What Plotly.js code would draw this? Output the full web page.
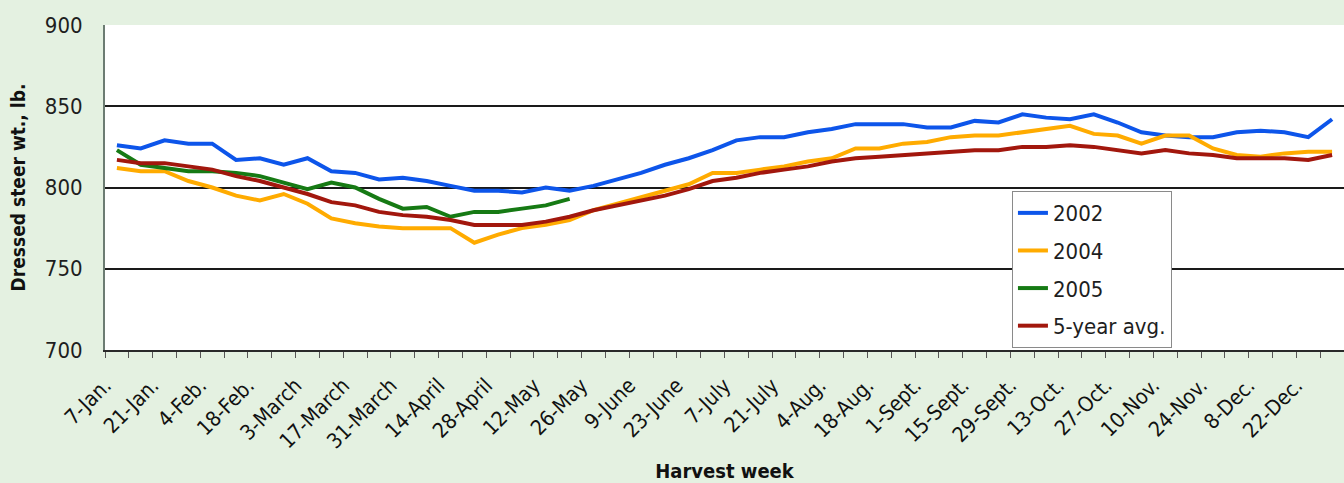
<!DOCTYPE html>
<html>
<head>
<meta charset="utf-8">
<script src="https://cdn.plot.ly/plotly-3.0.1.min.js"></script>
<style>
  html, body { margin: 0; padding: 0; background: #e4f1e1; }
  #chart { width: 1344px; height: 483px; }
</style>
</head>
<body>
<div id="chart"></div>
<script>
// Harvest week labels (every week; labels shown on alternating weeks)
const weeks = [
  "7-Jan.", "14-Jan.", "21-Jan.", "28-Jan.", "4-Feb.", "11-Feb.", "18-Feb.", "25-Feb.",
  "3-March", "10-March", "17-March", "24-March", "31-March", "7-April", "14-April", "21-April",
  "28-April", "5-May", "12-May", "19-May", "26-May", "2-June", "9-June", "16-June",
  "23-June", "30-June", "7-July", "14-July", "21-July", "28-July", "4-Aug.", "11-Aug.",
  "18-Aug.", "25-Aug.", "1-Sept.", "8-Sept.", "15-Sept.", "22-Sept.", "29-Sept.", "6-Oct.",
  "13-Oct.", "20-Oct.", "27-Oct.", "3-Nov.", "10-Nov.", "17-Nov.", "24-Nov.", "1-Dec.",
  "8-Dec.", "15-Dec.", "22-Dec.", "29-Dec."
];

const y2002 = [
  826, 824, 829, 827, 827, 817, 818, 814, 818, 810, 809, 805, 806,
  804, 801, 798, 798, 797, 800, 798, 801, 805, 809, 814, 818, 823,
  829, 831, 831, 834, 836, 839, 839, 839, 837, 837, 841, 840, 845,
  843, 842, 845, 840, 834, 832, 831, 831, 834, 835, 834, 831, 842
];

const y2004 = [
  812, 810, 810, 804, 800, 795, 792, 796, 790, 781, 778, 776, 775,
  775, 775, 766, 771, 775, 777, 780, 786, 790, 794, 798, 802, 809,
  809, 811, 813, 816, 818, 824, 824, 827, 828, 831, 832, 832, 834,
  836, 838, 833, 832, 827, 832, 832, 824, 820, 819, 821, 822, 822
];

const y2005 = [
  823, 814, 812, 810, 810, 809, 807, 803, 799, 803, 800, 793, 787,
  788, 782, 785, 785, 787, 789, 793
];

const yAvg = [
  817, 815, 815, 813, 811, 807, 804, 800, 796, 791, 789, 785, 783,
  782, 780, 777, 777, 777, 779, 782, 786, 789, 792, 795, 799, 804,
  806, 809, 811, 813, 816, 818, 819, 820, 821, 822, 823, 823, 825,
  825, 826, 825, 823, 821, 823, 821, 820, 818, 818, 818, 817, 820
];

const seriesNames = ["2002", "2004", "2005", "5-year avg."];
const seriesColors = ["#0d55ea", "#ffab00", "#167a14", "#a2170d"];
const seriesValues = [y2002, y2004, y2005, yAvg];

const idx = weeks.map((_, i) => i);
// tick marks sit between weeks (category boundaries); every other week is labelled
const boundaries = idx.map(i => i - 0.5).concat([weeks.length - 0.5]);
const boundaryText = boundaries.map(b => {
  const i = b + 0.5;
  return (i < weeks.length && i % 2 === 0) ? weeks[i] : "";
});

const traces = seriesNames.map((name, k) => ({
  type: "scatter",
  mode: "lines",
  name: name,
  legendgroup: "g" + k,
  x: idx.slice(0, seriesValues[k].length),
  y: seriesValues[k],
  line: { color: seriesColors[k], width: 4 },
  hoverinfo: "x+y+name"
}));

const FAM = "DejaVu Sans Condensed, DejaVu Sans, sans-serif";

const layout = {
  width: 1344,
  height: 483,
  paper_bgcolor: "#e4f1e1",
  plot_bgcolor: "#ffffff",
  margin: { l: 105, r: 0, t: 25, b: 133 },
  showlegend: true,
  legend: {
    x: 0.732, y: 0.489, xanchor: "left", yanchor: "top",
    bgcolor: "#ffffff", bordercolor: "#8a8a8a", borderwidth: 1,
    font: { family: FAM, size: 22, color: "#1e1e1e" },
    tracegroupgap: 6,
    traceorder: "grouped"
  },
  xaxis: {
    range: [-0.5, weeks.length - 0.5],
    tickmode: "array",
    tickvals: boundaries,
    ticktext: boundaryText,
    tickangle: -45,
    ticks: "outside",
    ticklen: 6,
    tickwidth: 1,
    tickcolor: "#555555",
    ticklabelstandoff: 7,
    tickfont: { family: FAM, size: 21, color: "#111111" },
    showgrid: false,
    zeroline: false,
    showline: true,
    linecolor: "#2a2a2a",
    linewidth: 2,
    automargin: false,
    title: { text: "Harvest week", font: { family: FAM, size: 20, color: "#111", weight: "bold" }, standoff: 12 }
  },
  yaxis: {
    range: [700, 900],
    tickmode: "linear",
    tick0: 700,
    dtick: 50,
    ticks: "",
    ticklabelstandoff: 16,
    tickfont: { family: FAM, size: 22, color: "#1e1e1e" },
    showgrid: true,
    gridcolor: "#1a1a1a",
    gridwidth: 2,
    zeroline: false,
    showline: true,
    linecolor: "#6c7c72",
    linewidth: 2,
    automargin: false,
    title: { text: "Dressed steer wt., lb.", font: { family: FAM, size: 19, color: "#111", weight: "bold" }, standoff: 14 }
  }
};

Plotly.newPlot("chart", traces, layout, { displayModeBar: false, staticPlot: true });
</script>
</body>
</html>
